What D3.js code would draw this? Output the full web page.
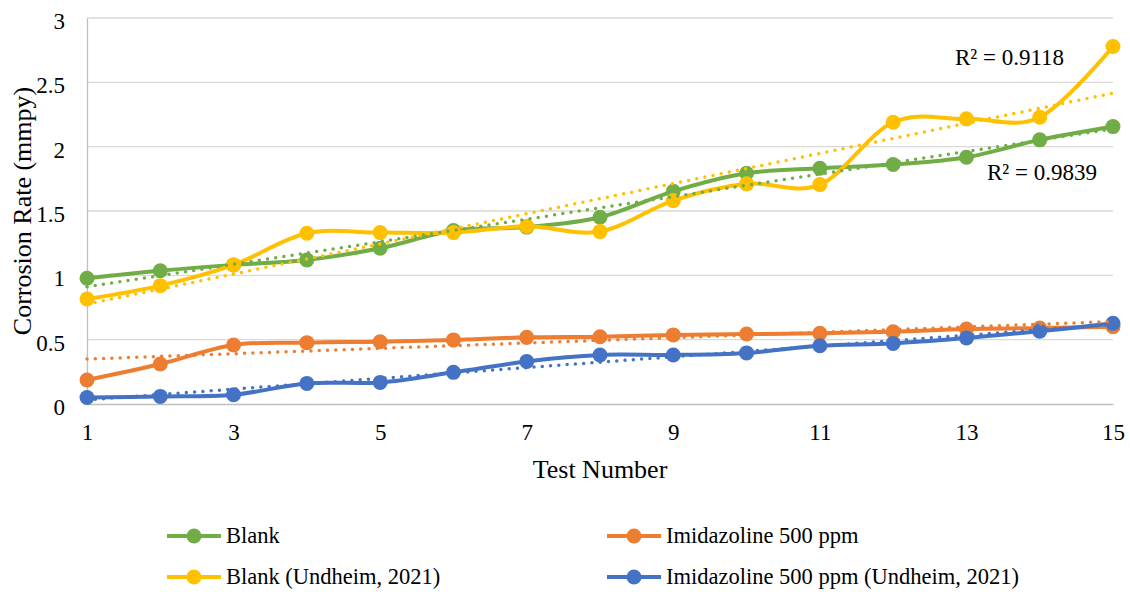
<!DOCTYPE html>
<html>
<head>
<meta charset="utf-8">
<script src="https://cdn.jsdelivr.net/npm/d3@7"></script>
<style>
  html, body { margin: 0; padding: 0; background: #fff; }
  svg { display: block; font-family: "Liberation Serif", "Times New Roman", serif; }
</style>
</head>
<body>
<svg id="chart" width="1130" height="592"></svg>
<script>
// Test numbers (x axis)
const tests = [1, 2, 3, 4, 5, 6, 7, 8, 9, 10, 11, 12, 13, 14, 15];

// Corrosion rate (mmpy) per test
const blank = [0.977, 1.036, 1.081, 1.12, 1.21, 1.348, 1.375, 1.451, 1.653, 1.793, 1.832, 1.861, 1.918, 2.053, 2.156];
const imidazoline = [0.187, 0.311, 0.459, 0.477, 0.484, 0.498, 0.518, 0.523, 0.537, 0.544, 0.549, 0.562, 0.583, 0.59, 0.601];
const blankUndheim = [0.816, 0.92, 1.081, 1.327, 1.332, 1.332, 1.381, 1.34, 1.581, 1.711, 1.705, 2.19, 2.216, 2.229, 2.778];
const imidazolineUndheim = [0.051, 0.059, 0.072, 0.16, 0.168, 0.246, 0.331, 0.381, 0.381, 0.397, 0.453, 0.471, 0.513, 0.565, 0.627];

const seriesNames = ["Blank", "Imidazoline 500 ppm", "Blank (Undheim, 2021)", "Imidazoline 500 ppm (Undheim, 2021)"];
const seriesColors = ["#70AD47", "#ED7D31", "#FFC000", "#4472C4"];

// Axis ticks
const xTicks = [1, 3, 5, 7, 9, 11, 13, 15];
const yTicks = [0, 0.5, 1, 1.5, 2, 2.5, 3];

// Coefficient of determination labels for the two blank trendlines
const r2Labels = ["R² = 0.9118", "R² = 0.9839"];

const FONT = "'Liberation Serif', 'Times New Roman', serif";

const series = [blank, imidazoline, blankUndheim, imidazolineUndheim].map((vals, i) => ({
  name: seriesNames[i],
  color: seriesColors[i],
  points: vals.map((v, j) => ({ x: tests[j], y: v }))
}));

const svg = d3.select("#chart");
const plot = { left: 87, right: 1113, top: 18, bottom: 404 };

const x = d3.scaleLinear().domain([1, 15]).range([plot.left, plot.right]);
const y = d3.scaleLinear().domain([0, 3]).range([plot.bottom, plot.top]);

// Horizontal gridlines
svg.append("g")
  .selectAll("line")
  .data(yTicks.filter(t => t > 0))
  .join("line")
  .attr("x1", plot.left).attr("x2", plot.right)
  .attr("y1", d => y(d)).attr("y2", d => y(d))
  .attr("stroke", "#d9d9d9").attr("stroke-width", 1.3);

// Axes
const xAxis = svg.append("g")
  .attr("transform", `translate(0,${plot.bottom})`)
  .call(d3.axisBottom(x).tickValues(xTicks).tickSize(0).tickPadding(20).tickFormat(d3.format("d")));
xAxis.attr("font-family", FONT);
xAxis.select(".domain").attr("stroke", "#bfbfbf").attr("stroke-width", 1.3);
xAxis.selectAll("text").attr("font-size", 23).attr("fill", "#000");

const yAxis = svg.append("g")
  .attr("transform", `translate(${plot.left},0)`)
  .call(d3.axisLeft(y).tickValues(yTicks).tickSize(0).tickPadding(22).tickFormat(d => d3.format("")(d)));
yAxis.attr("font-family", FONT);
yAxis.select(".domain").attr("stroke", "#bfbfbf").attr("stroke-width", 1.3);
yAxis.selectAll("text").attr("font-size", 23).attr("fill", "#000").attr("dy", "0.45em");

// Axis titles
svg.append("text")
  .attr("x", (plot.left + plot.right) / 2).attr("y", 478)
  .attr("text-anchor", "middle")
  .attr("font-size", 26)
  .text("Test Number");

svg.append("text")
  .attr("transform", `translate(31,${(plot.top + plot.bottom) / 2}) rotate(-90)`)
  .attr("text-anchor", "middle")
  .attr("font-size", 26)
  .text("Corrosion Rate (mmpy)");

// Smoothed series lines and markers
const line = d3.line()
  .x(d => x(d.x)).y(d => y(d.y))
  .curve(d3.curveCardinal.tension(0));

series.forEach(s => {
  const g = svg.append("g");
  g.append("path")
    .attr("d", line(s.points))
    .attr("fill", "none")
    .attr("stroke", s.color)
    .attr("stroke-width", 4)
    .attr("stroke-linejoin", "round")
    .attr("stroke-linecap", "round");
  g.selectAll("circle")
    .data(s.points)
    .join("circle")
    .attr("cx", d => x(d.x)).attr("cy", d => y(d.y))
    .attr("r", 7.5)
    .attr("fill", s.color);
});

// Least-squares linear trendlines (dotted)
function fit(points) {
  const mx = d3.mean(points, d => d.x), my = d3.mean(points, d => d.y);
  const sxy = d3.sum(points, d => (d.x - mx) * (d.y - my));
  const sxx = d3.sum(points, d => (d.x - mx) ** 2);
  const b = sxy / sxx;
  return { a: my - b * mx, b };
}

series.forEach(s => {
  const { a, b } = fit(s.points);
  svg.append("line")
    .attr("x1", x(1)).attr("y1", y(a + b * 1))
    .attr("x2", x(15)).attr("y2", y(a + b * 15))
    .attr("stroke", s.color)
    .attr("stroke-width", 3.5)
    .attr("stroke-linecap", "round")
    .attr("stroke-dasharray", "0 8.3");
});

// R² labels
svg.append("text").attr("x", 955).attr("y", 65).attr("font-size", 23).text(r2Labels[0]);
svg.append("text").attr("x", 987).attr("y", 180).attr("font-size", 23).text(r2Labels[1]);

// Legend: two columns, two rows
const legendPos = [
  { lx: 167, ly: 536 }, { lx: 607, ly: 536 },
  { lx: 167, ly: 577 }, { lx: 607, ly: 577 }
];
const legend = svg.append("g");
series.forEach((s, i) => {
  const p = legendPos[i];
  const item = legend.append("g").attr("transform", `translate(${p.lx},${p.ly})`);
  item.append("line")
    .attr("x1", 0).attr("x2", 54).attr("y1", 0).attr("y2", 0)
    .attr("stroke", s.color).attr("stroke-width", 4);
  item.append("circle").attr("cx", 27).attr("cy", 0).attr("r", 7.5).attr("fill", s.color);
  item.append("text")
    .attr("x", 59).attr("y", 0).attr("dy", "0.33em")
    .attr("font-size", 22.5)
    .text(s.name);
});
</script>
</body>
</html>
